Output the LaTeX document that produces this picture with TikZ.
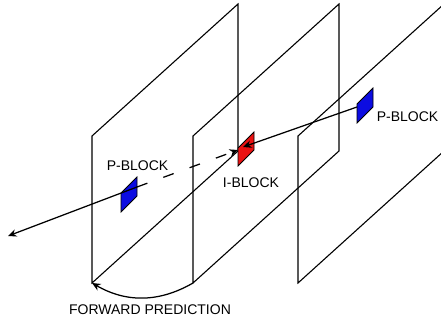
\documentclass[tikz,border=0pt]{standalone}
\usepackage{fontspec}
\setmainfont{Liberation Sans}
\usetikzlibrary{positioning,arrows.meta,calc}
\definecolor{pblue}{RGB}{12,12,225}
\definecolor{ired}{RGB}{235,18,18}
\tikzset{
  frame/.style={draw=black, line width=1.1pt, line join=miter},
  pblock/.style={draw=black, fill=pblue, line width=0.8pt},
  iblock/.style={draw=black, fill=ired, line width=0.8pt},
  motion/.style={draw=black, line width=1.25pt, -{Stealth[length=8.5pt,width=7.5pt]}},
  guess/.style={motion, dash pattern=on 11pt off 17pt},
  lbl/.style={font=\fontsize{14}{16}\selectfont, inner sep=0pt}
}

\begin{document}
\begin{tikzpicture}[x=1pt,y=1pt]
  \useasboundingbox (0,0) rectangle (441,321);
  \clip (0,0) rectangle (441,321);

  % the three pictures
  \foreach \fx [count=\i] in {92,193,298} {
    \coordinate (f\i) at (\fx,38);
    \draw[frame] (f\i) -- ++(0,147) -- ++(146,132) -- ++(0,-147) -- cycle;
  }

  % blocks
  \coordinate (pl) at (121,109);
  \coordinate (ib) at (238,155);
  \coordinate (pr) at (357,198);
  \draw[pblock] (pl) -- ++(0,19) -- ++(16,16) -- ++(0,-19) -- cycle;
  \draw[iblock] (ib) -- ++(0,18) -- ++(16,16) -- ++(0,-18) -- cycle;
  \draw[pblock] (pr) -- ++(0,19) -- ++(16,16) -- ++(0,-19) -- cycle;

  \coordinate (plout) at (137,134);
  \coordinate (prout) at (357,214);
  \coordinate (ibin) at (238,171);
  \coordinate (ibin2) at (243,174);
  \coordinate (past) at (8,85);

  % vectors
  \draw[motion] (plout) -- (past);
  \draw[guess]  (plout) -- (ibin);
  \draw[motion] (prout) -- (ibin2);
  \draw[motion] (f2) to[bend left=30] (f1);

  \node[lbl] (pltxt) at (137.5,155) {P-BLOCK};
  \node[lbl] (ibtxt) at (251,138.5) {I-BLOCK};
  \node[lbl] (prtxt) at (407.5,204) {P-BLOCK};
  \node[lbl] (fwdtxt) at (150,11.5) {FORWARD PREDICTION};
\end{tikzpicture}
\end{document}
